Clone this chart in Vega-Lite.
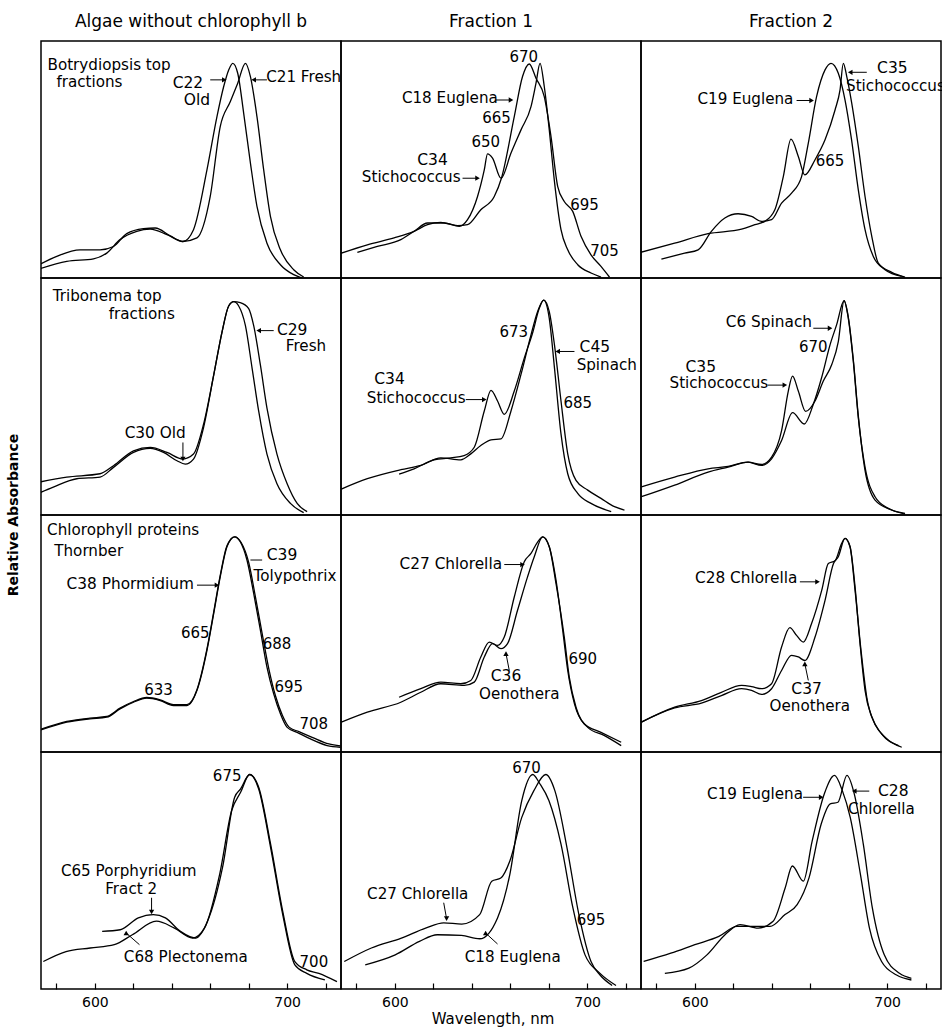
{
"$schema": "https://vega.github.io/schema/vega-lite/v6.json",
"background": "white",
"padding": {"left": 6, "top": 13, "right": 0, "bottom": 2},
"bounds": "flush",
"data": {"values": [
{"r":1,"c":1,"t":"C","s":"C22","x":571.1,"y":3.8},{"r":1,"c":1,"t":"C","s":"C22","x":585.4,"y":7.0},{"r":1,"c":1,"t":"C","s":"C22","x":599.3,"y":8.1},{"r":1,"c":1,"t":"C","s":"C22","x":606.2,"y":10.5},{"r":1,"c":1,"t":"C","s":"C22","x":613.1,"y":16.2},{"r":1,"c":1,"t":"C","s":"C22","x":621.8,"y":19.7},{"r":1,"c":1,"t":"C","s":"C22","x":628.8,"y":20.6},{"r":1,"c":1,"t":"C","s":"C22","x":637.5,"y":18.3},{"r":1,"c":1,"t":"C","s":"C22","x":645.8,"y":15.4},{"r":1,"c":1,"t":"C","s":"C22","x":651.3,"y":20.4},{"r":1,"c":1,"t":"C","s":"C22","x":658.3,"y":45.6},{"r":1,"c":1,"t":"C","s":"C22","x":663.5,"y":68.1},{"r":1,"c":1,"t":"C","s":"C22","x":667,"y":80.8},{"r":1,"c":1,"t":"C","s":"C22","x":669.6,"y":87.8},{"r":1,"c":1,"t":"C","s":"C22","x":671.7,"y":90.6},{"r":1,"c":1,"t":"C","s":"C22","x":674.3,"y":86.4},{"r":1,"c":1,"t":"C","s":"C22","x":677.4,"y":69.5},{"r":1,"c":1,"t":"C","s":"C22","x":680.9,"y":48.5},{"r":1,"c":1,"t":"C","s":"C22","x":684.3,"y":30.2},{"r":1,"c":1,"t":"C","s":"C22","x":689.5,"y":14.7},{"r":1,"c":1,"t":"C","s":"C22","x":696.5,"y":5.6},{"r":1,"c":1,"t":"C","s":"C22","x":703.4,"y":1.4},{"r":1,"c":1,"t":"C","s":"C22","x":707.8,"y":0},
{"r":1,"c":1,"t":"C","s":"C21","x":571.1,"y":5.6},{"r":1,"c":1,"t":"C","s":"C21","x":580.2,"y":9.1},{"r":1,"c":1,"t":"C","s":"C21","x":592.3,"y":11.9},{"r":1,"c":1,"t":"C","s":"C21","x":602.7,"y":11.9},{"r":1,"c":1,"t":"C","s":"C21","x":609.7,"y":13.3},{"r":1,"c":1,"t":"C","s":"C21","x":616.6,"y":18.7},{"r":1,"c":1,"t":"C","s":"C21","x":625.3,"y":20.8},{"r":1,"c":1,"t":"C","s":"C21","x":631.4,"y":21.1},{"r":1,"c":1,"t":"C","s":"C21","x":639.2,"y":17.8},{"r":1,"c":1,"t":"C","s":"C21","x":645.8,"y":15.4},{"r":1,"c":1,"t":"C","s":"C21","x":653.1,"y":16.9},{"r":1,"c":1,"t":"C","s":"C21","x":660,"y":34.4},{"r":1,"c":1,"t":"C","s":"C21","x":665.2,"y":63.9},{"r":1,"c":1,"t":"C","s":"C21","x":670.4,"y":74.4},{"r":1,"c":1,"t":"C","s":"C21","x":674.3,"y":82.2},{"r":1,"c":1,"t":"C","s":"C21","x":678.3,"y":90.6},{"r":1,"c":1,"t":"C","s":"C21","x":680.9,"y":85},{"r":1,"c":1,"t":"C","s":"C21","x":684.3,"y":68.1},{"r":1,"c":1,"t":"C","s":"C21","x":687.8,"y":45.6},{"r":1,"c":1,"t":"C","s":"C21","x":691.3,"y":26},{"r":1,"c":1,"t":"C","s":"C21","x":696.5,"y":11.9},{"r":1,"c":1,"t":"C","s":"C21","x":703.4,"y":3.5},{"r":1,"c":1,"t":"C","s":"C21","x":708.6,"y":0.4},
{"r":1,"c":2,"t":"C","s":"C18","x":571.5,"y":10.3},{"r":1,"c":2,"t":"C","s":"C18","x":585.7,"y":14.0},{"r":1,"c":2,"t":"C","s":"C18","x":599.6,"y":16.9},{"r":1,"c":2,"t":"C","s":"C18","x":610,"y":19.7},{"r":1,"c":2,"t":"C","s":"C18","x":617,"y":22.5},{"r":1,"c":2,"t":"C","s":"C18","x":623.9,"y":23.5},{"r":1,"c":2,"t":"C","s":"C18","x":632.6,"y":22.1},{"r":1,"c":2,"t":"C","s":"C18","x":637.8,"y":22.5},{"r":1,"c":2,"t":"C","s":"C18","x":644.7,"y":28.8},{"r":1,"c":2,"t":"C","s":"C18","x":651.7,"y":34.4},{"r":1,"c":2,"t":"C","s":"C18","x":655.5,"y":42.3},{"r":1,"c":2,"t":"C","s":"C18","x":662.1,"y":68.1},{"r":1,"c":2,"t":"C","s":"C18","x":666.4,"y":85},{"r":1,"c":2,"t":"C","s":"C18","x":669.9,"y":90.3},{"r":1,"c":2,"t":"C","s":"C18","x":673.4,"y":84.3},{"r":1,"c":2,"t":"C","s":"C18","x":677.7,"y":76.5},{"r":1,"c":2,"t":"C","s":"C18","x":681.2,"y":59.7},{"r":1,"c":2,"t":"C","s":"C18","x":684.7,"y":38.6},{"r":1,"c":2,"t":"C","s":"C18","x":688.1,"y":32.3},{"r":1,"c":2,"t":"C","s":"C18","x":692.5,"y":28.1},{"r":1,"c":2,"t":"C","s":"C18","x":696.8,"y":17.6},{"r":1,"c":2,"t":"C","s":"C18","x":702,"y":9.8},{"r":1,"c":2,"t":"C","s":"C18","x":707.2,"y":4.9},{"r":1,"c":2,"t":"C","s":"C18","x":711.6,"y":0.4},
{"r":1,"c":2,"t":"C","s":"C34","x":580.5,"y":10.8},{"r":1,"c":2,"t":"C","s":"C34","x":590.9,"y":13.3},{"r":1,"c":2,"t":"C","s":"C34","x":603.1,"y":16.2},{"r":1,"c":2,"t":"C","s":"C34","x":610,"y":19.7},{"r":1,"c":2,"t":"C","s":"C34","x":617,"y":23.2},{"r":1,"c":2,"t":"C","s":"C34","x":625.6,"y":23.2},{"r":1,"c":2,"t":"C","s":"C34","x":633.5,"y":21.8},{"r":1,"c":2,"t":"C","s":"C34","x":637.8,"y":24.6},{"r":1,"c":2,"t":"C","s":"C34","x":643,"y":34.4},{"r":1,"c":2,"t":"C","s":"C34","x":646.5,"y":45.6},{"r":1,"c":2,"t":"C","s":"C34","x":648.2,"y":52.4},{"r":1,"c":2,"t":"C","s":"C34","x":650.8,"y":50.6},{"r":1,"c":2,"t":"C","s":"C34","x":655.2,"y":42.1},{"r":1,"c":2,"t":"C","s":"C34","x":660.4,"y":52.7},{"r":1,"c":2,"t":"C","s":"C34","x":665.6,"y":62.5},{"r":1,"c":2,"t":"C","s":"C34","x":670.8,"y":72.3},{"r":1,"c":2,"t":"C","s":"C34","x":673.4,"y":82.2},{"r":1,"c":2,"t":"C","s":"C34","x":675.5,"y":90.6},{"r":1,"c":2,"t":"C","s":"C34","x":677.7,"y":80.8},{"r":1,"c":2,"t":"C","s":"C34","x":680.3,"y":62.5},{"r":1,"c":2,"t":"C","s":"C34","x":682.9,"y":41.4},{"r":1,"c":2,"t":"C","s":"C34","x":686.4,"y":20.4},{"r":1,"c":2,"t":"C","s":"C34","x":689.9,"y":11.9},{"r":1,"c":2,"t":"C","s":"C34","x":695.1,"y":5.6},{"r":1,"c":2,"t":"C","s":"C34","x":702,"y":2.1},{"r":1,"c":2,"t":"C","s":"C34","x":707.2,"y":0.4},
{"r":1,"c":3,"t":"C","s":"C19","x":582.6,"y":8.0},{"r":1,"c":3,"t":"C","s":"C19","x":594.7,"y":10.5},{"r":1,"c":3,"t":"C","s":"C19","x":601.7,"y":11.9},{"r":1,"c":3,"t":"C","s":"C19","x":608.6,"y":19.7},{"r":1,"c":3,"t":"C","s":"C19","x":615.6,"y":25.3},{"r":1,"c":3,"t":"C","s":"C19","x":622.5,"y":27.1},{"r":1,"c":3,"t":"C","s":"C19","x":629.5,"y":26},{"r":1,"c":3,"t":"C","s":"C19","x":634.7,"y":23.9},{"r":1,"c":3,"t":"C","s":"C19","x":639.9,"y":24.6},{"r":1,"c":3,"t":"C","s":"C19","x":645.1,"y":31.6},{"r":1,"c":3,"t":"C","s":"C19","x":650.3,"y":35.8},{"r":1,"c":3,"t":"C","s":"C19","x":655.5,"y":42.8},{"r":1,"c":3,"t":"C","s":"C19","x":659,"y":56.9},{"r":1,"c":3,"t":"C","s":"C19","x":663.3,"y":76.5},{"r":1,"c":3,"t":"C","s":"C19","x":667.7,"y":87.8},{"r":1,"c":3,"t":"C","s":"C19","x":670.8,"y":90.6},{"r":1,"c":3,"t":"C","s":"C19","x":674.6,"y":86.4},{"r":1,"c":3,"t":"C","s":"C19","x":678.1,"y":75.1},{"r":1,"c":3,"t":"C","s":"C19","x":681.5,"y":58.3},{"r":1,"c":3,"t":"C","s":"C19","x":685,"y":37.2},{"r":1,"c":3,"t":"C","s":"C19","x":688.5,"y":20.4},{"r":1,"c":3,"t":"C","s":"C19","x":692.8,"y":9.1},{"r":1,"c":3,"t":"C","s":"C19","x":698.9,"y":3.5},{"r":1,"c":3,"t":"C","s":"C19","x":707.6,"y":0.7},
{"r":1,"c":3,"t":"C","s":"C35","x":571.7,"y":10.8},{"r":1,"c":3,"t":"C","s":"C35","x":589.5,"y":14.7},{"r":1,"c":3,"t":"C","s":"C35","x":606.9,"y":18.7},{"r":1,"c":3,"t":"C","s":"C35","x":624.3,"y":20.6},{"r":1,"c":3,"t":"C","s":"C35","x":631.2,"y":22.5},{"r":1,"c":3,"t":"C","s":"C35","x":636.4,"y":23.9},{"r":1,"c":3,"t":"C","s":"C35","x":641.6,"y":28.8},{"r":1,"c":3,"t":"C","s":"C35","x":646,"y":42.8},{"r":1,"c":3,"t":"C","s":"C35","x":650,"y":58.6},{"r":1,"c":3,"t":"C","s":"C35","x":653.8,"y":51.3},{"r":1,"c":3,"t":"C","s":"C35","x":657.2,"y":43.5},{"r":1,"c":3,"t":"C","s":"C35","x":662.5,"y":49.9},{"r":1,"c":3,"t":"C","s":"C35","x":667.7,"y":58.3},{"r":1,"c":3,"t":"C","s":"C35","x":672.9,"y":70.9},{"r":1,"c":3,"t":"C","s":"C35","x":675.5,"y":79.4},{"r":1,"c":3,"t":"C","s":"C35","x":677.2,"y":90.6},{"r":1,"c":3,"t":"C","s":"C35","x":679,"y":85},{"r":1,"c":3,"t":"C","s":"C35","x":681.6,"y":73.7},{"r":1,"c":3,"t":"C","s":"C35","x":685,"y":55.5},{"r":1,"c":3,"t":"C","s":"C35","x":688.5,"y":34.4},{"r":1,"c":3,"t":"C","s":"C35","x":692,"y":17.6},{"r":1,"c":3,"t":"C","s":"C35","x":695.4,"y":6.3},{"r":1,"c":3,"t":"C","s":"C35","x":702.4,"y":2.4},{"r":1,"c":3,"t":"C","s":"C35","x":709.3,"y":0.4},
{"r":2,"c":1,"t":"C","s":"C29","x":571.1,"y":9.3},{"r":2,"c":1,"t":"C","s":"C29","x":578.4,"y":11.8},{"r":2,"c":1,"t":"C","s":"C29","x":590.6,"y":15.3},{"r":2,"c":1,"t":"C","s":"C29","x":602.7,"y":16},{"r":2,"c":1,"t":"C","s":"C29","x":609.7,"y":20.1},{"r":2,"c":1,"t":"C","s":"C29","x":620.1,"y":26.4},{"r":2,"c":1,"t":"C","s":"C29","x":628.8,"y":28.1},{"r":2,"c":1,"t":"C","s":"C29","x":635.7,"y":26.4},{"r":2,"c":1,"t":"C","s":"C29","x":642.7,"y":22.9},{"r":2,"c":1,"t":"C","s":"C29","x":647,"y":21.5},{"r":2,"c":1,"t":"C","s":"C29","x":651.3,"y":23.6},{"r":2,"c":1,"t":"C","s":"C29","x":656.5,"y":36.8},{"r":2,"c":1,"t":"C","s":"C29","x":661.8,"y":59},{"r":2,"c":1,"t":"C","s":"C29","x":666.1,"y":77.1},{"r":2,"c":1,"t":"C","s":"C29","x":669.6,"y":88.2},{"r":2,"c":1,"t":"C","s":"C29","x":672.2,"y":90},{"r":2,"c":1,"t":"C","s":"C29","x":675.6,"y":89.6},{"r":2,"c":1,"t":"C","s":"C29","x":680,"y":87.1},{"r":2,"c":1,"t":"C","s":"C29","x":682.6,"y":79.9},{"r":2,"c":1,"t":"C","s":"C29","x":686.1,"y":63.2},{"r":2,"c":1,"t":"C","s":"C29","x":689.5,"y":45.1},{"r":2,"c":1,"t":"C","s":"C29","x":694.7,"y":25.7},{"r":2,"c":1,"t":"C","s":"C29","x":700,"y":13.2},{"r":2,"c":1,"t":"C","s":"C29","x":705.2,"y":4.9},{"r":2,"c":1,"t":"C","s":"C29","x":710.4,"y":1.4},
{"r":2,"c":1,"t":"C","s":"C30","x":571.1,"y":13.9},{"r":2,"c":1,"t":"C","s":"C30","x":585.4,"y":16},{"r":2,"c":1,"t":"C","s":"C30","x":602.7,"y":17.4},{"r":2,"c":1,"t":"C","s":"C30","x":609.7,"y":20.8},{"r":2,"c":1,"t":"C","s":"C30","x":620.1,"y":27.1},{"r":2,"c":1,"t":"C","s":"C30","x":628.8,"y":28.5},{"r":2,"c":1,"t":"C","s":"C30","x":637.5,"y":26.4},{"r":2,"c":1,"t":"C","s":"C30","x":645.8,"y":23.6},{"r":2,"c":1,"t":"C","s":"C30","x":651.3,"y":25.7},{"r":2,"c":1,"t":"C","s":"C30","x":656.5,"y":38.2},{"r":2,"c":1,"t":"C","s":"C30","x":661.8,"y":59},{"r":2,"c":1,"t":"C","s":"C30","x":666.1,"y":77.1},{"r":2,"c":1,"t":"C","s":"C30","x":669.6,"y":88.2},{"r":2,"c":1,"t":"C","s":"C30","x":672.2,"y":90},{"r":2,"c":1,"t":"C","s":"C30","x":674.8,"y":88.2},{"r":2,"c":1,"t":"C","s":"C30","x":678.3,"y":79.9},{"r":2,"c":1,"t":"C","s":"C30","x":681.8,"y":61.8},{"r":2,"c":1,"t":"C","s":"C30","x":685.2,"y":43.8},{"r":2,"c":1,"t":"C","s":"C30","x":689.5,"y":25.7},{"r":2,"c":1,"t":"C","s":"C30","x":694.7,"y":13.2},{"r":2,"c":1,"t":"C","s":"C30","x":701.7,"y":4.9},{"r":2,"c":1,"t":"C","s":"C30","x":708.6,"y":1},
{"r":2,"c":2,"t":"C","s":"C45","x":571.5,"y":10.7},{"r":2,"c":2,"t":"C","s":"C45","x":585.7,"y":15.3},{"r":2,"c":2,"t":"C","s":"C45","x":603.1,"y":19.1},{"r":2,"c":2,"t":"C","s":"C45","x":613.5,"y":20.9},{"r":2,"c":2,"t":"C","s":"C45","x":623.9,"y":24.1},{"r":2,"c":2,"t":"C","s":"C45","x":634.3,"y":23.3},{"r":2,"c":2,"t":"C","s":"C45","x":639.5,"y":25.8},{"r":2,"c":2,"t":"C","s":"C45","x":644.7,"y":29.3},{"r":2,"c":2,"t":"C","s":"C45","x":650,"y":31.7},{"r":2,"c":2,"t":"C","s":"C45","x":655.2,"y":32.1},{"r":2,"c":2,"t":"C","s":"C45","x":660.4,"y":43.9},{"r":2,"c":2,"t":"C","s":"C45","x":665.6,"y":59.3},{"r":2,"c":2,"t":"C","s":"C45","x":670.8,"y":76},{"r":2,"c":2,"t":"C","s":"C45","x":674.3,"y":86},{"r":2,"c":2,"t":"C","s":"C45","x":677.4,"y":90.7},{"r":2,"c":2,"t":"C","s":"C45","x":680.3,"y":85.8},{"r":2,"c":2,"t":"C","s":"C45","x":683,"y":71.8},{"r":2,"c":2,"t":"C","s":"C45","x":686.4,"y":48.1},{"r":2,"c":2,"t":"C","s":"C45","x":689.9,"y":25.8},{"r":2,"c":2,"t":"C","s":"C45","x":694.2,"y":14.6},{"r":2,"c":2,"t":"C","s":"C45","x":700.3,"y":10.5},{"r":2,"c":2,"t":"C","s":"C45","x":707.2,"y":7},{"r":2,"c":2,"t":"C","s":"C45","x":714.2,"y":3.5},{"r":2,"c":2,"t":"C","s":"C45","x":719.4,"y":2.1},
{"r":2,"c":2,"t":"C","s":"C34","x":602.2,"y":17.2},{"r":2,"c":2,"t":"C","s":"C34","x":610,"y":19.5},{"r":2,"c":2,"t":"C","s":"C34","x":620.4,"y":23.3},{"r":2,"c":2,"t":"C","s":"C34","x":629.1,"y":24.1},{"r":2,"c":2,"t":"C","s":"C34","x":636,"y":25.1},{"r":2,"c":2,"t":"C","s":"C34","x":641.3,"y":28.6},{"r":2,"c":2,"t":"C","s":"C34","x":646.5,"y":43.9},{"r":2,"c":2,"t":"C","s":"C34","x":650,"y":52.6},{"r":2,"c":2,"t":"C","s":"C34","x":653.4,"y":48.1},{"r":2,"c":2,"t":"C","s":"C34","x":656.9,"y":42.5},{"r":2,"c":2,"t":"C","s":"C34","x":662.1,"y":52.3},{"r":2,"c":2,"t":"C","s":"C34","x":667.3,"y":66.2},{"r":2,"c":2,"t":"C","s":"C34","x":671.7,"y":77},{"r":2,"c":2,"t":"C","s":"C34","x":675.1,"y":87.2},{"r":2,"c":2,"t":"C","s":"C34","x":677.4,"y":90.7},{"r":2,"c":2,"t":"C","s":"C34","x":680.3,"y":83},{"r":2,"c":2,"t":"C","s":"C34","x":683,"y":62.1},{"r":2,"c":2,"t":"C","s":"C34","x":686.4,"y":34.2},{"r":2,"c":2,"t":"C","s":"C34","x":689.9,"y":17.4},{"r":2,"c":2,"t":"C","s":"C34","x":695.1,"y":9.1},{"r":2,"c":2,"t":"C","s":"C34","x":702,"y":4.9},{"r":2,"c":2,"t":"C","s":"C34","x":712.5,"y":1.4},
{"r":2,"c":3,"t":"C","s":"C35","x":572.2,"y":11.9},{"r":2,"c":3,"t":"C","s":"C35","x":589.5,"y":16},{"r":2,"c":3,"t":"C","s":"C35","x":606.9,"y":19.5},{"r":2,"c":3,"t":"C","s":"C35","x":617.3,"y":20.5},{"r":2,"c":3,"t":"C","s":"C35","x":627.7,"y":22.3},{"r":2,"c":3,"t":"C","s":"C35","x":634.7,"y":21.3},{"r":2,"c":3,"t":"C","s":"C35","x":639.9,"y":24.4},{"r":2,"c":3,"t":"C","s":"C35","x":645.1,"y":35.6},{"r":2,"c":3,"t":"C","s":"C35","x":648.6,"y":52.3},{"r":2,"c":3,"t":"C","s":"C35","x":650.8,"y":58.6},{"r":2,"c":3,"t":"C","s":"C35","x":653.8,"y":52.3},{"r":2,"c":3,"t":"C","s":"C35","x":657.6,"y":43.7},{"r":2,"c":3,"t":"C","s":"C35","x":662.5,"y":48.1},{"r":2,"c":3,"t":"C","s":"C35","x":666.8,"y":56.5},{"r":2,"c":3,"t":"C","s":"C35","x":671.2,"y":63.5},{"r":2,"c":3,"t":"C","s":"C35","x":674.6,"y":73.2},{"r":2,"c":3,"t":"C","s":"C35","x":677.6,"y":90.4},{"r":2,"c":3,"t":"C","s":"C35","x":679.8,"y":83},{"r":2,"c":3,"t":"C","s":"C35","x":682.4,"y":64.9},{"r":2,"c":3,"t":"C","s":"C35","x":685,"y":41.1},{"r":2,"c":3,"t":"C","s":"C35","x":688.5,"y":20.2},{"r":2,"c":3,"t":"C","s":"C35","x":693.7,"y":7.7},{"r":2,"c":3,"t":"C","s":"C35","x":700.6,"y":2.8},{"r":2,"c":3,"t":"C","s":"C35","x":709.3,"y":0.7},
{"r":2,"c":3,"t":"C","s":"C6","x":572.2,"y":7.7},{"r":2,"c":3,"t":"C","s":"C6","x":589.5,"y":12.6},{"r":2,"c":3,"t":"C","s":"C6","x":606.9,"y":18.1},{"r":2,"c":3,"t":"C","s":"C6","x":617.3,"y":20.2},{"r":2,"c":3,"t":"C","s":"C6","x":627.7,"y":22.3},{"r":2,"c":3,"t":"C","s":"C6","x":634.7,"y":20.9},{"r":2,"c":3,"t":"C","s":"C6","x":639.9,"y":23.7},{"r":2,"c":3,"t":"C","s":"C6","x":645.1,"y":31.4},{"r":2,"c":3,"t":"C","s":"C6","x":650.8,"y":43.2},{"r":2,"c":3,"t":"C","s":"C6","x":656.9,"y":38.4},{"r":2,"c":3,"t":"C","s":"C6","x":661.6,"y":46.7},{"r":2,"c":3,"t":"C","s":"C6","x":665.9,"y":57.9},{"r":2,"c":3,"t":"C","s":"C6","x":670.3,"y":71.8},{"r":2,"c":3,"t":"C","s":"C6","x":673.7,"y":80.2},{"r":2,"c":3,"t":"C","s":"C6","x":677.6,"y":90.4},{"r":2,"c":3,"t":"C","s":"C6","x":679.8,"y":83.5},{"r":2,"c":3,"t":"C","s":"C6","x":682.4,"y":65.5},{"r":2,"c":3,"t":"C","s":"C6","x":685,"y":41.8},{"r":2,"c":3,"t":"C","s":"C6","x":688.5,"y":18.8},{"r":2,"c":3,"t":"C","s":"C6","x":693.7,"y":6.3},{"r":2,"c":3,"t":"C","s":"C6","x":702.4,"y":2.1},{"r":2,"c":3,"t":"C","s":"C6","x":709.3,"y":0.4},
{"r":3,"c":1,"t":"C","s":"C38","x":572,"y":9.3},{"r":3,"c":1,"t":"C","s":"C38","x":585.4,"y":12.6},{"r":3,"c":1,"t":"C","s":"C38","x":597.5,"y":14},{"r":3,"c":1,"t":"C","s":"C38","x":606.2,"y":14.7},{"r":3,"c":1,"t":"C","s":"C38","x":613.1,"y":18.2},{"r":3,"c":1,"t":"C","s":"C38","x":620.1,"y":21},{"r":3,"c":1,"t":"C","s":"C38","x":627,"y":22.7},{"r":3,"c":1,"t":"C","s":"C38","x":634,"y":21.7},{"r":3,"c":1,"t":"C","s":"C38","x":640.9,"y":19.6},{"r":3,"c":1,"t":"C","s":"C38","x":647.9,"y":19.6},{"r":3,"c":1,"t":"C","s":"C38","x":653.1,"y":26},{"r":3,"c":1,"t":"C","s":"C38","x":658.3,"y":42.9},{"r":3,"c":1,"t":"C","s":"C38","x":661.8,"y":58.4},{"r":3,"c":1,"t":"C","s":"C38","x":665.2,"y":73.9},{"r":3,"c":1,"t":"C","s":"C38","x":668.7,"y":86.6},{"r":3,"c":1,"t":"C","s":"C38","x":672.7,"y":90.8},{"r":3,"c":1,"t":"C","s":"C38","x":675.6,"y":88.7},{"r":3,"c":1,"t":"C","s":"C38","x":679.1,"y":81},{"r":3,"c":1,"t":"C","s":"C38","x":682.6,"y":66.9},{"r":3,"c":1,"t":"C","s":"C38","x":686.1,"y":51.3},{"r":3,"c":1,"t":"C","s":"C38","x":689.5,"y":35.8},{"r":3,"c":1,"t":"C","s":"C38","x":693,"y":24.5},{"r":3,"c":1,"t":"C","s":"C38","x":696.5,"y":16.1},{"r":3,"c":1,"t":"C","s":"C38","x":700,"y":10.4},{"r":3,"c":1,"t":"C","s":"C38","x":705.2,"y":8.3},{"r":3,"c":1,"t":"C","s":"C38","x":712.1,"y":5.5},{"r":3,"c":1,"t":"C","s":"C38","x":720.8,"y":2.7},{"r":3,"c":1,"t":"C","s":"C38","x":727.7,"y":2},
{"r":3,"c":1,"t":"C","s":"C39","x":572,"y":9.6},{"r":3,"c":1,"t":"C","s":"C39","x":585.4,"y":12.9},{"r":3,"c":1,"t":"C","s":"C39","x":597.5,"y":14.3},{"r":3,"c":1,"t":"C","s":"C39","x":606.2,"y":15},{"r":3,"c":1,"t":"C","s":"C39","x":613.1,"y":18.5},{"r":3,"c":1,"t":"C","s":"C39","x":620.1,"y":21.3},{"r":3,"c":1,"t":"C","s":"C39","x":627,"y":23},{"r":3,"c":1,"t":"C","s":"C39","x":634,"y":22},{"r":3,"c":1,"t":"C","s":"C39","x":640.9,"y":20},{"r":3,"c":1,"t":"C","s":"C39","x":647.9,"y":20},{"r":3,"c":1,"t":"C","s":"C39","x":653.1,"y":26.3},{"r":3,"c":1,"t":"C","s":"C39","x":658.3,"y":43.5},{"r":3,"c":1,"t":"C","s":"C39","x":661.8,"y":59},{"r":3,"c":1,"t":"C","s":"C39","x":665.2,"y":74.5},{"r":3,"c":1,"t":"C","s":"C39","x":668.7,"y":87},{"r":3,"c":1,"t":"C","s":"C39","x":672.7,"y":90.8},{"r":3,"c":1,"t":"C","s":"C39","x":676,"y":88.5},{"r":3,"c":1,"t":"C","s":"C39","x":680,"y":80},{"r":3,"c":1,"t":"C","s":"C39","x":683.5,"y":65.5},{"r":3,"c":1,"t":"C","s":"C39","x":687,"y":50},{"r":3,"c":1,"t":"C","s":"C39","x":690.5,"y":35},{"r":3,"c":1,"t":"C","s":"C39","x":694,"y":23.5},{"r":3,"c":1,"t":"C","s":"C39","x":697.5,"y":15.5},{"r":3,"c":1,"t":"C","s":"C39","x":701,"y":10.5},{"r":3,"c":1,"t":"C","s":"C39","x":706.1,"y":8.6},{"r":3,"c":1,"t":"C","s":"C39","x":713,"y":6.2},{"r":3,"c":1,"t":"C","s":"C39","x":721.7,"y":3.4},{"r":3,"c":1,"t":"C","s":"C39","x":727.7,"y":2.6},
{"r":3,"c":2,"t":"C","s":"C27","x":602.2,"y":23.1},{"r":3,"c":2,"t":"C","s":"C27","x":613.5,"y":26.7},{"r":3,"c":2,"t":"C","s":"C27","x":623.9,"y":29.5},{"r":3,"c":2,"t":"C","s":"C27","x":634.3,"y":28.8},{"r":3,"c":2,"t":"C","s":"C27","x":639.5,"y":30.2},{"r":3,"c":2,"t":"C","s":"C27","x":644.7,"y":40.1},{"r":3,"c":2,"t":"C","s":"C27","x":649.1,"y":46.4},{"r":3,"c":2,"t":"C","s":"C27","x":653.4,"y":45},{"r":3,"c":2,"t":"C","s":"C27","x":656.9,"y":48.5},{"r":3,"c":2,"t":"C","s":"C27","x":662.1,"y":65.4},{"r":3,"c":2,"t":"C","s":"C27","x":667.3,"y":80.3},{"r":3,"c":2,"t":"C","s":"C27","x":670.8,"y":83.8},{"r":3,"c":2,"t":"C","s":"C27","x":674.3,"y":88.7},{"r":3,"c":2,"t":"C","s":"C27","x":676.9,"y":90.8},{"r":3,"c":2,"t":"C","s":"C27","x":680.3,"y":86.6},{"r":3,"c":2,"t":"C","s":"C27","x":683.8,"y":72.5},{"r":3,"c":2,"t":"C","s":"C27","x":687.3,"y":51.3},{"r":3,"c":2,"t":"C","s":"C27","x":689.9,"y":34.4},{"r":3,"c":2,"t":"C","s":"C27","x":693.4,"y":20.3},{"r":3,"c":2,"t":"C","s":"C27","x":698.6,"y":11.8},{"r":3,"c":2,"t":"C","s":"C27","x":707.2,"y":8.3},{"r":3,"c":2,"t":"C","s":"C27","x":717.7,"y":4.1},
{"r":3,"c":2,"t":"C","s":"C36","x":572.2,"y":12.6},{"r":3,"c":2,"t":"C","s":"C36","x":585.7,"y":16.8},{"r":3,"c":2,"t":"C","s":"C36","x":603.1,"y":21},{"r":3,"c":2,"t":"C","s":"C36","x":613.5,"y":25.2},{"r":3,"c":2,"t":"C","s":"C36","x":623.9,"y":28.8},{"r":3,"c":2,"t":"C","s":"C36","x":636.1,"y":28.1},{"r":3,"c":2,"t":"C","s":"C36","x":641.3,"y":29.5},{"r":3,"c":2,"t":"C","s":"C36","x":646.5,"y":40.1},{"r":3,"c":2,"t":"C","s":"C36","x":650.8,"y":45.7},{"r":3,"c":2,"t":"C","s":"C36","x":655.2,"y":43.6},{"r":3,"c":2,"t":"C","s":"C36","x":658.6,"y":45.7},{"r":3,"c":2,"t":"C","s":"C36","x":663.8,"y":59.8},{"r":3,"c":2,"t":"C","s":"C36","x":669,"y":73.9},{"r":3,"c":2,"t":"C","s":"C36","x":672.5,"y":82.4},{"r":3,"c":2,"t":"C","s":"C36","x":676.9,"y":90.8},{"r":3,"c":2,"t":"C","s":"C36","x":680.3,"y":86.6},{"r":3,"c":2,"t":"C","s":"C36","x":683.8,"y":71.1},{"r":3,"c":2,"t":"C","s":"C36","x":688.1,"y":48.5},{"r":3,"c":2,"t":"C","s":"C36","x":690.7,"y":31.6},{"r":3,"c":2,"t":"C","s":"C36","x":694.2,"y":18.9},{"r":3,"c":2,"t":"C","s":"C36","x":700.3,"y":10.4},{"r":3,"c":2,"t":"C","s":"C36","x":709,"y":6.9},{"r":3,"c":2,"t":"C","s":"C36","x":717.7,"y":2.7},
{"r":3,"c":3,"t":"C","s":"C28","x":572.2,"y":12.6},{"r":3,"c":3,"t":"C","s":"C28","x":589.5,"y":18.9},{"r":3,"c":3,"t":"C","s":"C28","x":603.4,"y":21.7},{"r":3,"c":3,"t":"C","s":"C28","x":613.8,"y":25.2},{"r":3,"c":3,"t":"C","s":"C28","x":624.3,"y":28.1},{"r":3,"c":3,"t":"C","s":"C28","x":629.5,"y":27.6},{"r":3,"c":3,"t":"C","s":"C28","x":634.7,"y":26.7},{"r":3,"c":3,"t":"C","s":"C28","x":639.9,"y":28.8},{"r":3,"c":3,"t":"C","s":"C28","x":645.1,"y":44.3},{"r":3,"c":3,"t":"C","s":"C28","x":649.4,"y":52.5},{"r":3,"c":3,"t":"C","s":"C28","x":652.9,"y":49.2},{"r":3,"c":3,"t":"C","s":"C28","x":656.4,"y":46.4},{"r":3,"c":3,"t":"C","s":"C28","x":660.7,"y":54.2},{"r":3,"c":3,"t":"C","s":"C28","x":666,"y":68.3},{"r":3,"c":3,"t":"C","s":"C28","x":669.4,"y":79.5},{"r":3,"c":3,"t":"C","s":"C28","x":672.9,"y":80.7},{"r":3,"c":3,"t":"C","s":"C28","x":676.3,"y":87.9},{"r":3,"c":3,"t":"C","s":"C28","x":678.1,"y":90.1},{"r":3,"c":3,"t":"C","s":"C28","x":680.7,"y":86.6},{"r":3,"c":3,"t":"C","s":"C28","x":683.3,"y":69.7},{"r":3,"c":3,"t":"C","s":"C28","x":685.9,"y":45.7},{"r":3,"c":3,"t":"C","s":"C28","x":688.5,"y":26},{"r":3,"c":3,"t":"C","s":"C28","x":692,"y":14.7},{"r":3,"c":3,"t":"C","s":"C28","x":697.2,"y":7.6},{"r":3,"c":3,"t":"C","s":"C28","x":705.9,"y":2.7},
{"r":3,"c":3,"t":"C","s":"C37","x":572.2,"y":12.6},{"r":3,"c":3,"t":"C","s":"C37","x":589.5,"y":18.6},{"r":3,"c":3,"t":"C","s":"C37","x":603.4,"y":20.6},{"r":3,"c":3,"t":"C","s":"C37","x":613.8,"y":23.8},{"r":3,"c":3,"t":"C","s":"C37","x":624.3,"y":26.7},{"r":3,"c":3,"t":"C","s":"C37","x":629.5,"y":26},{"r":3,"c":3,"t":"C","s":"C37","x":634.7,"y":24.3},{"r":3,"c":3,"t":"C","s":"C37","x":639.9,"y":26.7},{"r":3,"c":3,"t":"C","s":"C37","x":645.1,"y":34.4},{"r":3,"c":3,"t":"C","s":"C37","x":650.3,"y":40.8},{"r":3,"c":3,"t":"C","s":"C37","x":653.8,"y":40.1},{"r":3,"c":3,"t":"C","s":"C37","x":657.2,"y":38.6},{"r":3,"c":3,"t":"C","s":"C37","x":662.5,"y":48.5},{"r":3,"c":3,"t":"C","s":"C37","x":667.7,"y":64},{"r":3,"c":3,"t":"C","s":"C37","x":672.1,"y":79.5},{"r":3,"c":3,"t":"C","s":"C37","x":674.6,"y":82.4},{"r":3,"c":3,"t":"C","s":"C37","x":678.1,"y":90.1},{"r":3,"c":3,"t":"C","s":"C37","x":680.7,"y":86.6},{"r":3,"c":3,"t":"C","s":"C37","x":683.3,"y":68.3},{"r":3,"c":3,"t":"C","s":"C37","x":686.4,"y":42.9},{"r":3,"c":3,"t":"C","s":"C37","x":689.4,"y":23.1},{"r":3,"c":3,"t":"C","s":"C37","x":693.7,"y":11.8},{"r":3,"c":3,"t":"C","s":"C37","x":698.9,"y":6.2},{"r":3,"c":3,"t":"C","s":"C37","x":707.6,"y":2},
{"r":4,"c":1,"t":"C","s":"C68","x":573.2,"y":11.6},{"r":4,"c":1,"t":"C","s":"C68","x":585,"y":15.8},{"r":4,"c":1,"t":"C","s":"C68","x":597.6,"y":17.3},{"r":4,"c":1,"t":"C","s":"C68","x":610.1,"y":18.7},{"r":4,"c":1,"t":"C","s":"C68","x":619.5,"y":22.9},{"r":4,"c":1,"t":"C","s":"C68","x":632,"y":28.6},{"r":4,"c":1,"t":"C","s":"C68","x":641.4,"y":25.7},{"r":4,"c":1,"t":"C","s":"C68","x":650.8,"y":21.5},{"r":4,"c":1,"t":"C","s":"C68","x":657,"y":25.7},{"r":4,"c":1,"t":"C","s":"C68","x":664.9,"y":48.4},{"r":4,"c":1,"t":"C","s":"C68","x":671.1,"y":75.2},{"r":4,"c":1,"t":"C","s":"C68","x":675.8,"y":83},{"r":4,"c":1,"t":"C","s":"C68","x":680.5,"y":90.5},{"r":4,"c":1,"t":"C","s":"C68","x":685.2,"y":85.1},{"r":4,"c":1,"t":"C","s":"C68","x":691.4,"y":61.1},{"r":4,"c":1,"t":"C","s":"C68","x":697.7,"y":32.8},{"r":4,"c":1,"t":"C","s":"C68","x":704,"y":11.6},{"r":4,"c":1,"t":"C","s":"C68","x":710.2,"y":8.1},{"r":4,"c":1,"t":"C","s":"C68","x":716.5,"y":6.6},{"r":4,"c":1,"t":"C","s":"C68","x":725.9,"y":3.1},
{"r":4,"c":1,"t":"C","s":"C65","x":603.8,"y":24.3},{"r":4,"c":1,"t":"C","s":"C65","x":613.2,"y":25},{"r":4,"c":1,"t":"C","s":"C65","x":622.6,"y":30},{"r":4,"c":1,"t":"C","s":"C65","x":630.4,"y":31.4},{"r":4,"c":1,"t":"C","s":"C65","x":636.7,"y":30},{"r":4,"c":1,"t":"C","s":"C65","x":644.5,"y":24.3},{"r":4,"c":1,"t":"C","s":"C65","x":652.3,"y":21.5},{"r":4,"c":1,"t":"C","s":"C65","x":658.6,"y":28.6},{"r":4,"c":1,"t":"C","s":"C65","x":666.4,"y":51.3},{"r":4,"c":1,"t":"C","s":"C65","x":672.7,"y":80.9},{"r":4,"c":1,"t":"C","s":"C65","x":675.8,"y":84.4},{"r":4,"c":1,"t":"C","s":"C65","x":680.5,"y":90.5},{"r":4,"c":1,"t":"C","s":"C65","x":685.2,"y":84.4},{"r":4,"c":1,"t":"C","s":"C65","x":691.4,"y":59.7},{"r":4,"c":1,"t":"C","s":"C65","x":697.7,"y":31.4},{"r":4,"c":1,"t":"C","s":"C65","x":704,"y":10.2},{"r":4,"c":1,"t":"C","s":"C65","x":710.2,"y":6.6},{"r":4,"c":1,"t":"C","s":"C65","x":719.6,"y":3.8},
{"r":4,"c":2,"t":"C","s":"C27","x":573.7,"y":11.6},{"r":4,"c":2,"t":"C","s":"C27","x":587.8,"y":17.3},{"r":4,"c":2,"t":"C","s":"C27","x":603.4,"y":21.5},{"r":4,"c":2,"t":"C","s":"C27","x":616,"y":25.7},{"r":4,"c":2,"t":"C","s":"C27","x":625.4,"y":27.9},{"r":4,"c":2,"t":"C","s":"C27","x":634.8,"y":27.4},{"r":4,"c":2,"t":"C","s":"C27","x":644.1,"y":31.4},{"r":4,"c":2,"t":"C","s":"C27","x":650.4,"y":45.5},{"r":4,"c":2,"t":"C","s":"C27","x":655.1,"y":46.8},{"r":4,"c":2,"t":"C","s":"C27","x":659.8,"y":54},{"r":4,"c":2,"t":"C","s":"C27","x":666,"y":72.4},{"r":4,"c":2,"t":"C","s":"C27","x":672.3,"y":83.7},{"r":4,"c":2,"t":"C","s":"C27","x":678.5,"y":90.5},{"r":4,"c":2,"t":"C","s":"C27","x":683.2,"y":83.7},{"r":4,"c":2,"t":"C","s":"C27","x":689.5,"y":59.7},{"r":4,"c":2,"t":"C","s":"C27","x":695.7,"y":31.4},{"r":4,"c":2,"t":"C","s":"C27","x":702,"y":11.6},{"r":4,"c":2,"t":"C","s":"C27","x":706.7,"y":5.9},{"r":4,"c":2,"t":"C","s":"C27","x":713,"y":1.5},
{"r":4,"c":2,"t":"C","s":"C18","x":584.6,"y":10.2},{"r":4,"c":2,"t":"C","s":"C18","x":600.2,"y":14.4},{"r":4,"c":2,"t":"C","s":"C18","x":612.8,"y":20.1},{"r":4,"c":2,"t":"C","s":"C18","x":622.1,"y":22.9},{"r":4,"c":2,"t":"C","s":"C18","x":634.6,"y":22.6},{"r":4,"c":2,"t":"C","s":"C18","x":644.1,"y":21.2},{"r":4,"c":2,"t":"C","s":"C18","x":653.4,"y":30},{"r":4,"c":2,"t":"C","s":"C18","x":659.8,"y":48.4},{"r":4,"c":2,"t":"C","s":"C18","x":666,"y":79.5},{"r":4,"c":2,"t":"C","s":"C18","x":671.7,"y":90.5},{"r":4,"c":2,"t":"C","s":"C18","x":675.4,"y":86.6},{"r":4,"c":2,"t":"C","s":"C18","x":680.1,"y":79.5},{"r":4,"c":2,"t":"C","s":"C18","x":686.4,"y":61.1},{"r":4,"c":2,"t":"C","s":"C18","x":692.6,"y":34.2},{"r":4,"c":2,"t":"C","s":"C18","x":698.9,"y":14.4},{"r":4,"c":2,"t":"C","s":"C18","x":706.7,"y":6.6},{"r":4,"c":2,"t":"C","s":"C18","x":715,"y":1.5},
{"r":4,"c":3,"t":"C","s":"C28","x":573.4,"y":11.6},{"r":4,"c":3,"t":"C","s":"C28","x":587.5,"y":15.1},{"r":4,"c":3,"t":"C","s":"C28","x":600,"y":18.7},{"r":4,"c":3,"t":"C","s":"C28","x":612.5,"y":22.2},{"r":4,"c":3,"t":"C","s":"C28","x":621.9,"y":26.4},{"r":4,"c":3,"t":"C","s":"C28","x":631.3,"y":26.4},{"r":4,"c":3,"t":"C","s":"C28","x":639.1,"y":26.4},{"r":4,"c":3,"t":"C","s":"C28","x":646.9,"y":31.4},{"r":4,"c":3,"t":"C","s":"C28","x":653.2,"y":35.6},{"r":4,"c":3,"t":"C","s":"C28","x":659.4,"y":47},{"r":4,"c":3,"t":"C","s":"C28","x":665.7,"y":69.6},{"r":4,"c":3,"t":"C","s":"C28","x":670.4,"y":78.1},{"r":4,"c":3,"t":"C","s":"C28","x":674.4,"y":78.8},{"r":4,"c":3,"t":"C","s":"C28","x":679.1,"y":90.1},{"r":4,"c":3,"t":"C","s":"C28","x":682.9,"y":82.3},{"r":4,"c":3,"t":"C","s":"C28","x":687.6,"y":61.1},{"r":4,"c":3,"t":"C","s":"C28","x":692.3,"y":34.2},{"r":4,"c":3,"t":"C","s":"C28","x":698.5,"y":14.4},{"r":4,"c":3,"t":"C","s":"C28","x":706.4,"y":6.6},{"r":4,"c":3,"t":"C","s":"C28","x":712.6,"y":4.5},
{"r":4,"c":3,"t":"C","s":"C19","x":584.4,"y":6.6},{"r":4,"c":3,"t":"C","s":"C19","x":596.9,"y":8.8},{"r":4,"c":3,"t":"C","s":"C19","x":606.3,"y":14.4},{"r":4,"c":3,"t":"C","s":"C19","x":615.7,"y":22.9},{"r":4,"c":3,"t":"C","s":"C19","x":623.5,"y":27.2},{"r":4,"c":3,"t":"C","s":"C19","x":632.9,"y":25.7},{"r":4,"c":3,"t":"C","s":"C19","x":640.7,"y":28.6},{"r":4,"c":3,"t":"C","s":"C19","x":647,"y":42.7},{"r":4,"c":3,"t":"C","s":"C19","x":650.7,"y":51.9},{"r":4,"c":3,"t":"C","s":"C19","x":656.4,"y":45.5},{"r":4,"c":3,"t":"C","s":"C19","x":661,"y":62.4},{"r":4,"c":3,"t":"C","s":"C19","x":667.3,"y":82.3},{"r":4,"c":3,"t":"C","s":"C19","x":672.6,"y":90.1},{"r":4,"c":3,"t":"C","s":"C19","x":676.7,"y":83.7},{"r":4,"c":3,"t":"C","s":"C19","x":680.8,"y":72.4},{"r":4,"c":3,"t":"C","s":"C19","x":686.1,"y":48.4},{"r":4,"c":3,"t":"C","s":"C19","x":690.8,"y":25.7},{"r":4,"c":3,"t":"C","s":"C19","x":697.1,"y":11.6},{"r":4,"c":3,"t":"C","s":"C19","x":704.9,"y":5.9},{"r":4,"c":3,"t":"C","s":"C19","x":712.6,"y":3.8},

{"r":1,"c":1,"t":"L","k":"name","txt":"Botrydiopsis top","x":607.4,"y":89.9},
{"r":1,"c":1,"t":"L","k":"name","txt":"fractions","x":597.2,"y":82.9},
{"r":1,"c":1,"t":"L","k":"big","txt":"C22","x":648.4,"y":82.2},
{"r":1,"c":1,"t":"L","k":"big","txt":"Old","x":653.1,"y":75.1},
{"r":1,"c":1,"t":"L","k":"name","txt":"C21 Fresh","x":708.6,"y":85},
{"r":1,"c":2,"t":"L","k":"num","txt":"670","x":667,"y":93.1},
{"r":1,"c":2,"t":"L","k":"name","txt":"C18 Euglena","x":628.6,"y":75.8},
{"r":1,"c":2,"t":"L","k":"num","txt":"665","x":652.9,"y":67.4},
{"r":1,"c":2,"t":"L","k":"num","txt":"650","x":647.3,"y":57.2},
{"r":1,"c":2,"t":"L","k":"big","txt":"C34","x":619.6,"y":49.8},
{"r":1,"c":2,"t":"L","k":"name","txt":"Stichococcus","x":608.5,"y":42.6},
{"r":1,"c":2,"t":"L","k":"num","txt":"695","x":698.6,"y":30.9},
{"r":1,"c":2,"t":"L","k":"num","txt":"705","x":709,"y":11.5},
{"r":1,"c":3,"t":"L","k":"name","txt":"C19 Euglena","x":626.3,"y":75.6},
{"r":1,"c":3,"t":"L","k":"big","txt":"C35","x":702.7,"y":88.6},
{"r":1,"c":3,"t":"L","k":"name","txt":"Stichococcus","x":704.3,"y":81.2},
{"r":1,"c":3,"t":"L","k":"num","txt":"665","x":670.3,"y":49.4},
{"r":2,"c":1,"t":"L","k":"name","txt":"Tribonema top","x":606.4,"y":92.4},
{"r":2,"c":1,"t":"L","k":"name","txt":"fractions","x":624.4,"y":84.7},
{"r":2,"c":1,"t":"L","k":"big","txt":"C29","x":702.6,"y":78.2},
{"r":2,"c":1,"t":"L","k":"name","txt":"Fresh","x":709.8,"y":71.3},
{"r":2,"c":1,"t":"L","k":"mid","txt":"C30 Old","x":631.4,"y":34.4},
{"r":2,"c":2,"t":"L","k":"num","txt":"673","x":661.8,"y":77.1},
{"r":2,"c":2,"t":"L","k":"big","txt":"C45","x":704,"y":70.9},
{"r":2,"c":2,"t":"L","k":"name","txt":"Spinach","x":710.2,"y":63.5},
{"r":2,"c":2,"t":"L","k":"big","txt":"C34","x":597.2,"y":57.2},
{"r":2,"c":2,"t":"L","k":"name","txt":"Stichococcus","x":611.1,"y":49.5},
{"r":2,"c":2,"t":"L","k":"num","txt":"685","x":695.1,"y":47.4},
{"r":2,"c":3,"t":"L","k":"mid","txt":"C6 Spinach","x":638.5,"y":81.3},
{"r":2,"c":3,"t":"L","k":"num","txt":"670","x":661.6,"y":70.9},
{"r":2,"c":3,"t":"L","k":"big","txt":"C35","x":603.1,"y":62.3},
{"r":2,"c":3,"t":"L","k":"name","txt":"Stichococcus","x":612.5,"y":55.5},
{"r":3,"c":1,"t":"L","k":"name","txt":"Chlorophyll proteins","x":614.7,"y":93.7},
{"r":3,"c":1,"t":"L","k":"name","txt":"Thornber","x":596.8,"y":84.9},
{"r":3,"c":1,"t":"L","k":"mid","txt":"C38 Phormidium","x":618.4,"y":70.8},
{"r":3,"c":1,"t":"L","k":"big","txt":"C39","x":697.3,"y":83.1},
{"r":3,"c":1,"t":"L","k":"name","txt":"Tolypothrix","x":704.1,"y":74.2},
{"r":3,"c":1,"t":"L","k":"num","txt":"665","x":652.2,"y":50.2},
{"r":3,"c":1,"t":"L","k":"num","txt":"688","x":694.7,"y":45.4},
{"r":3,"c":1,"t":"L","k":"num","txt":"695","x":700.8,"y":27.4},
{"r":3,"c":1,"t":"L","k":"num","txt":"633","x":633.1,"y":26.2},
{"r":3,"c":1,"t":"L","k":"num","txt":"708","x":713.8,"y":11.8},
{"r":3,"c":2,"t":"L","k":"mid","txt":"C27 Chlorella","x":629.1,"y":79.5},
{"r":3,"c":2,"t":"L","k":"big","txt":"C36","x":657.8,"y":31.9},
{"r":3,"c":2,"t":"L","k":"name","txt":"Oenothera","x":664.7,"y":24.5},
{"r":3,"c":2,"t":"L","k":"num","txt":"690","x":697.7,"y":39.4},
{"r":3,"c":3,"t":"L","k":"mid","txt":"C28 Chlorella","x":626.7,"y":73.6},
{"r":3,"c":3,"t":"L","k":"big","txt":"C37","x":658.1,"y":26.7},
{"r":3,"c":3,"t":"L","k":"name","txt":"Oenothera","x":659.8,"y":19.3},
{"r":4,"c":1,"t":"L","k":"num","txt":"675","x":668.8,"y":89.7},
{"r":4,"c":1,"t":"L","k":"name","txt":"C65 Porphyridium","x":617.6,"y":49.8},
{"r":4,"c":1,"t":"L","k":"name","txt":"Fract 2","x":618.9,"y":42.4},
{"r":4,"c":1,"t":"L","k":"name","txt":"C68 Plectonema","x":647.3,"y":13.7},
{"r":4,"c":1,"t":"L","k":"num","txt":"700","x":713.9,"y":11.3},
{"r":4,"c":2,"t":"L","k":"num","txt":"670","x":668.5,"y":93.4},
{"r":4,"c":2,"t":"L","k":"name","txt":"C27 Chlorella","x":611.9,"y":39.9},
{"r":4,"c":2,"t":"L","k":"name","txt":"C18 Euglena","x":661.3,"y":13.7},
{"r":4,"c":2,"t":"L","k":"num","txt":"695","x":702,"y":29.3},
{"r":4,"c":3,"t":"L","k":"name","txt":"C19 Euglena","x":631.3,"y":82.3},
{"r":4,"c":3,"t":"L","k":"big","txt":"C28","x":703.2,"y":83.5},
{"r":4,"c":3,"t":"L","k":"name","txt":"Chlorella","x":697,"y":76},

{"r":1,"c":1,"t":"A","d":"right","x":667.3,"y":83.6,"x2":660,"y2":83.6},
{"r":1,"c":1,"t":"A","d":"left","x":682.6,"y":83.6,"x2":689.5,"y2":83.6},
{"r":1,"c":2,"t":"A","d":"right","x":660.4,"y":75.1,"x2":652.6,"y2":75.1},
{"r":1,"c":2,"t":"A","d":"right","x":643,"y":42.1,"x2":635.2,"y2":42.1},
{"r":1,"c":3,"t":"A","d":"right","x":660.7,"y":74.9,"x2":652.9,"y2":74.9},
{"r":1,"c":3,"t":"A","d":"left","x":680.8,"y":86.8,"x2":689.4,"y2":86.8},
{"r":2,"c":1,"t":"A","d":"left","x":685.2,"y":77.8,"x2":693,"y2":77.8},
{"r":2,"c":1,"t":"A","d":"down","x":645.8,"y":23.6,"x2":645.8,"y2":30.6},
{"r":2,"c":2,"t":"A","d":"left","x":684.7,"y":69,"x2":693.4,"y2":69},
{"r":2,"c":2,"t":"A","d":"right","x":646.5,"y":48.7,"x2":636.9,"y2":48.7},
{"r":2,"c":3,"t":"A","d":"right","x":670.3,"y":78.8,"x2":661.6,"y2":78.8},
{"r":2,"c":3,"t":"A","d":"right","x":646.8,"y":54.8,"x2":637.8,"y2":54.8},
{"r":3,"c":1,"t":"A","d":"right","x":663.5,"y":70.4,"x2":653.1,"y2":70.4},
{"r":3,"c":1,"t":"A","d":"none","x":680.9,"y":81,"x2":687,"y2":81},
{"r":3,"c":2,"t":"A","d":"right","x":666.4,"y":79.1,"x2":656.9,"y2":79.1},
{"r":3,"c":2,"t":"A","d":"up","x":657.8,"y":41.5,"x2":659.5,"y2":34.4},
{"r":3,"c":3,"t":"A","d":"right","x":663.8,"y":71.8,"x2":654.6,"y2":71.8},
{"r":3,"c":3,"t":"A","d":"up","x":657.2,"y":37.2,"x2":659,"y2":30.2},
{"r":4,"c":1,"t":"A","d":"down","x":629.5,"y":32.5,"x2":629.5,"y2":38.5},
{"r":4,"c":1,"t":"A","d":"up","x":616.3,"y":23.6,"x2":623.2,"y2":18.7},
{"r":4,"c":2,"t":"A","d":"down","x":626.9,"y":29.7,"x2":625.4,"y2":36.4},
{"r":4,"c":2,"t":"A","d":"up","x":647.2,"y":23.6,"x2":653.4,"y2":19},
{"r":4,"c":3,"t":"A","d":"right","x":665.7,"y":80.9,"x2":656.3,"y2":80.9},
{"r":4,"c":3,"t":"A","d":"left","x":682.9,"y":83.5,"x2":690.7,"y2":83.5}
]},
"facet": {
  "row": {"field": "r", "type": "ordinal", "title": "Relative Absorbance",
    "header": {"labels": false, "titleOrient": "left", "titleFont": "DejaVu Sans", "titleFontSize": 14, "titleFontWeight": "bold", "titleColor": "black", "titlePadding": 10}},
  "column": {"field": "c", "type": "ordinal", "title": "Wavelength, nm",
    "header": {"labelOrient": "top", "titleOrient": "bottom",
      "labelExpr": "datum.value == 1 ? 'Algae without chlorophyll b' : datum.value == 2 ? 'Fraction 1' : 'Fraction 2'",
      "labelFont": "DejaVu Sans", "labelFontSize": 17, "labelColor": "black", "labelPadding": 10,
      "titleFont": "DejaVu Sans", "titleFontSize": 15, "titleFontWeight": "normal", "titleColor": "black", "titlePadding": -7}}
},
"spacing": 0,
"spec": {
  "width": 300, "height": 237,
  "layer": [
    {"transform": [{"filter": "datum.t == 'C'"}],
     "mark": {"type": "line", "color": "black", "strokeWidth": 1.3, "interpolate": "monotone", "clip": true},
     "encoding": {
       "x": {"field": "x", "type": "quantitative", "scale": {"domain": [572, 728], "nice": false, "zero": false},
             "axis": {"orient": "bottom", "title": null, "values": [580,590,600,610,620,630,640,650,660,670,680,690,700,710,720],
                      "labelExpr": "datum.value % 50 == 0 ? datum.label : ''", "labelOverlap": false, "grid": false, "domain": false,
                      "tickSize": -6, "tickColor": "black", "tickWidth": 1.2, "labelFont": "DejaVu Sans", "labelFontSize": 14, "labelColor": "black", "labelPadding": 12}},
       "y": {"field": "y", "type": "quantitative", "scale": {"domain": [0, 100], "nice": false}, "axis": null},
       "detail": {"field": "s"},
       "order": {"field": "x", "type": "quantitative"}}},
    {"transform": [{"filter": "datum.t == 'A'"}],
     "mark": {"type": "rule", "color": "black", "strokeWidth": 1},
     "encoding": {
       "x": {"field": "x", "type": "quantitative"}, "x2": {"field": "x2"},
       "y": {"field": "y", "type": "quantitative"}, "y2": {"field": "y2"}}},
    {"transform": [{"filter": "datum.t == 'A' && datum.d != 'none'"}],
     "mark": {"type": "point", "filled": true, "color": "black", "size": 28, "opacity": 1},
     "encoding": {
       "x": {"field": "x", "type": "quantitative"},
       "y": {"field": "y", "type": "quantitative"},
       "shape": {"field": "d", "type": "nominal", "scale": {"domain": ["right","left","up","down"], "range": ["triangle-right","triangle-left","triangle-up","triangle-down"]}, "legend": null}}},
    {"transform": [{"filter": "datum.t == 'L'"}],
     "mark": {"type": "text", "font": "DejaVu Sans", "color": "black"},
     "encoding": {
       "x": {"field": "x", "type": "quantitative"},
       "y": {"field": "y", "type": "quantitative"},
       "text": {"field": "txt"},
       "size": {"field": "k", "type": "nominal", "scale": {"domain": ["big","mid","name","num"], "range": [15.5, 15, 13.5, 13]}, "legend": null}}}
  ]
},
"config": {"view": {"stroke": "black", "strokeWidth": 1.5}, "font": "DejaVu Sans"}
}
